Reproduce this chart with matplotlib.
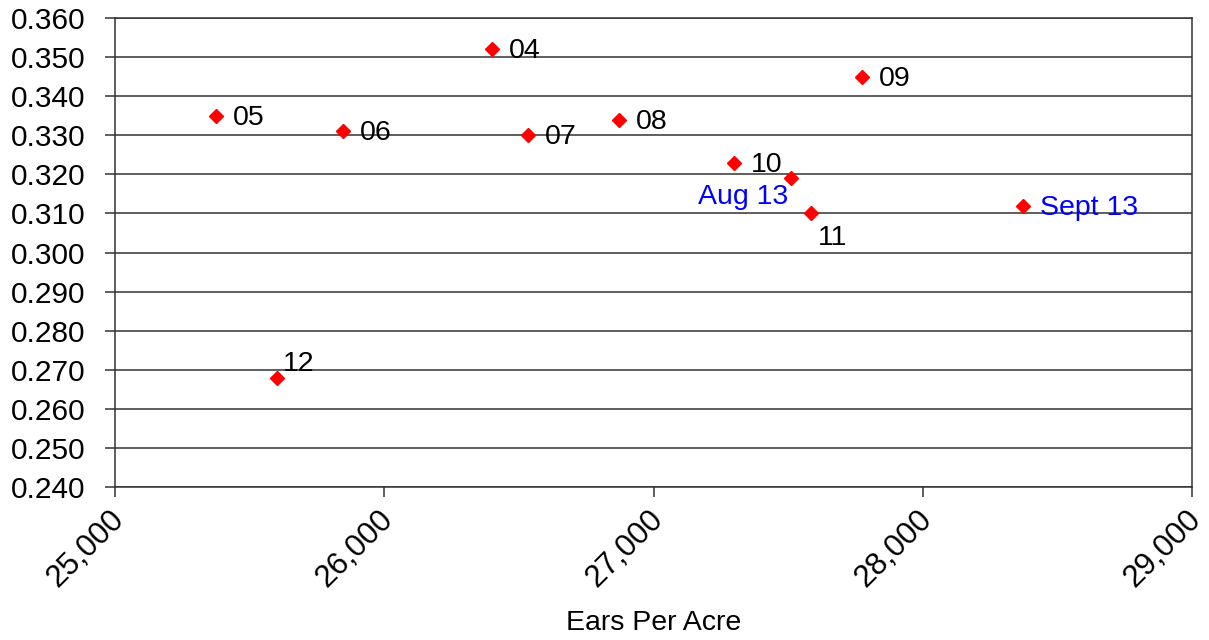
"""Scatter: ears per acre vs. value by crop year."""

import matplotlib
matplotlib.use("Agg")
import matplotlib.pyplot as plt
import matplotlib.transforms as mtransforms
from matplotlib.ticker import FuncFormatter, MultipleLocator

plt.rcParams["font.family"] = ["Liberation Sans", "DejaVu Sans"]

labels = ["05", "06", "04", "07", "08", "09", "10", "Aug 13", "11", "Sept 13", "12"]
ears = [25375, 25847, 26400, 26534, 26872, 27774, 27299, 27511, 27585, 28372, 25602]
values = [0.335, 0.331, 0.352, 0.330, 0.334, 0.345, 0.323, 0.319, 0.310, 0.312, 0.268]

# label placement in pixels relative to each point (dx, dy, ha)
offsets = {
    "Aug 13": (-3, -19, "right"),
    "11": (7, -25, "left"),
    "12": (6, 14, "left"),
}
blue_labels = {"Aug 13", "Sept 13"}

fig = plt.figure(figsize=(12.09, 6.40), dpi=100)
ax = fig.add_axes([115 / 1209, 1 - 487 / 640, (1192 - 115) / 1209, (487 - 18) / 640])

ax.plot(ears, values, ls="none", marker="D", ms=7, color="#ff0000", zorder=3)

for lab, x, y in zip(labels, ears, values):
    dx, dy, ha = offsets.get(lab, (17, -2, "left"))
    ax.annotate(lab, (x, y), xytext=(dx, dy), textcoords="offset pixels",
                ha=ha, va="center", fontsize=20.5,
                color="#0000ff" if lab in blue_labels else "black", zorder=4)

ax.set_xlim(25000, 29000)
ax.set_ylim(0.240, 0.360)
ax.xaxis.set_major_locator(MultipleLocator(1000))
ax.yaxis.set_major_locator(MultipleLocator(0.010))
ax.xaxis.set_major_formatter(FuncFormatter(lambda v, _: f"{v:,.0f}"))
ax.yaxis.set_major_formatter(FuncFormatter(lambda v, _: f"{v:.3f}"))

ax.grid(axis="y", color="#333333", lw=1.1)
for side in ["left", "right", "bottom", "top"]:
    ax.spines[side].set_color("#333333")
    ax.spines[side].set_linewidth(1.1)

ax.tick_params(axis="both", direction="out", length=7.5, width=1.1, color="#333333")
ax.tick_params(axis="y", labelsize=21.5, pad=14)
ax.tick_params(axis="x", labelsize=22.5, pad=5)
shift = mtransforms.ScaledTranslation(-6 / 100, 0, fig.dpi_scale_trans)
for t in ax.get_xticklabels():
    t.set_rotation(45)
    t.set_ha("right")
    t.set_rotation_mode("anchor")
    t.set_transform(t.get_transform() + shift)

ax.set_xlabel("Ears Per Acre", fontsize=20.5)
ax.xaxis.set_label_coords(0.5, -0.29)
ax.xaxis.label.set_va("center")

fig.savefig("out.png", dpi=100)
